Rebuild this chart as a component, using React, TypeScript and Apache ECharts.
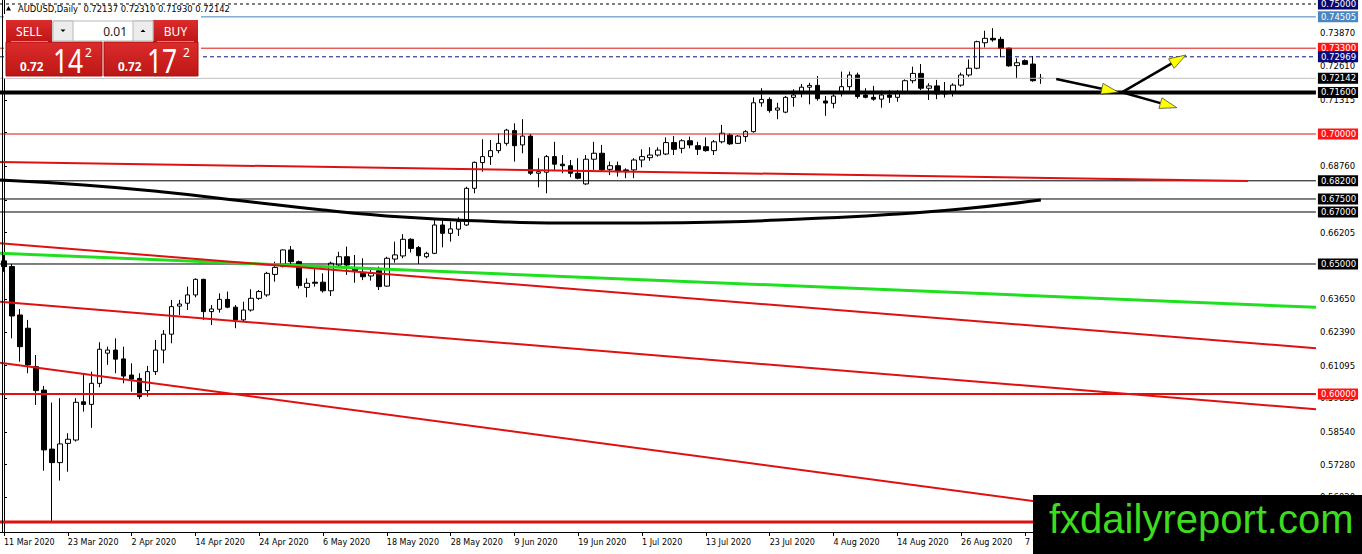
import React, { useEffect, useRef } from "react";
import * as echarts from "echarts";

const WIDTH = 1362;
const HEIGHT = 554;
const SLOT_COUNT = 165;
const BAR_COUNT = 131;
const Y_MIN = 0.546923;
const Y_MAX = 0.751538;

const MONTHS = ["Jan", "Feb", "Mar", "Apr", "May", "Jun", "Jul", "Aug", "Sep", "Oct", "Nov", "Dec"];

const opens = [
  0.6512, 0.649, 0.6304, 0.6253, 0.6105, 0.6015, 0.5788, 0.5736, 0.581, 0.5823,
  0.597, 0.596, 0.6041, 0.6157, 0.6169, 0.6135, 0.6073, 0.606, 0.6013, 0.6086,
  0.6169, 0.623, 0.6338, 0.6349, 0.6381, 0.6441, 0.6317, 0.6326, 0.6364, 0.6334,
  0.6285, 0.6323, 0.6368, 0.6381, 0.646, 0.649, 0.6554, 0.6509, 0.641, 0.643,
  0.643, 0.6397, 0.6496, 0.6528, 0.6484, 0.6464, 0.6454, 0.6474, 0.6415, 0.6519,
  0.6531, 0.6595, 0.6563, 0.6528, 0.6541, 0.665, 0.6618, 0.6634, 0.665, 0.6791,
  0.689, 0.6913, 0.6936, 0.6964, 0.7013, 0.6958, 0.6992, 0.6849, 0.6853, 0.6913,
  0.6884, 0.6878, 0.6849, 0.6808, 0.6903, 0.6926, 0.6864, 0.6878, 0.6862, 0.6862,
  0.69, 0.6909, 0.6919, 0.6923, 0.6967, 0.6945, 0.6974, 0.6955, 0.6951, 0.6936,
  0.697, 0.6996, 0.6964, 0.699, 0.7009, 0.712, 0.7133, 0.7092, 0.7084, 0.7141,
  0.7159, 0.718, 0.7187, 0.7127, 0.7118, 0.716, 0.7182, 0.7227, 0.715, 0.7141,
  0.7134, 0.715, 0.7141, 0.7163, 0.7205, 0.7233, 0.7176, 0.7185, 0.7154, 0.7163,
  0.7188, 0.7227, 0.7253, 0.7351, 0.7368, 0.7364, 0.733, 0.7263, 0.7282, 0.7269,
  0.72137,
];
const highs = [
  0.6535, 0.65, 0.6327, 0.6285, 0.615, 0.6031, 0.5967, 0.5984, 0.5849, 0.5984,
  0.608, 0.6086, 0.6199, 0.6182, 0.6214, 0.6182, 0.6118, 0.608, 0.6108, 0.6208,
  0.6246, 0.6362, 0.6362, 0.6413, 0.6445, 0.6443, 0.6342, 0.6387, 0.6394, 0.6342,
  0.6355, 0.6403, 0.64, 0.647, 0.6509, 0.6556, 0.6569, 0.6513, 0.6445, 0.648,
  0.6464, 0.6509, 0.6547, 0.6567, 0.6535, 0.6522, 0.6477, 0.649, 0.6528, 0.6586,
  0.6615, 0.6599, 0.6569, 0.6547, 0.6673, 0.6676, 0.6663, 0.668, 0.6797, 0.6894,
  0.698, 0.6977, 0.7003, 0.702, 0.7041, 0.7057, 0.7, 0.6907, 0.6919, 0.697,
  0.6919, 0.69, 0.6907, 0.6919, 0.697, 0.6958, 0.6894, 0.6894, 0.6868, 0.6907,
  0.6941, 0.6949, 0.6949, 0.6987, 0.6992, 0.698, 0.699, 0.697, 0.6987, 0.6977,
  0.7035, 0.7003, 0.6996, 0.7015, 0.7141, 0.7176, 0.7141, 0.712, 0.7146, 0.7172,
  0.7192, 0.7197, 0.7223, 0.7146, 0.7157, 0.724, 0.724, 0.7236, 0.7176, 0.7185,
  0.7167, 0.7169, 0.7169, 0.721, 0.7259, 0.7269, 0.7195, 0.7208, 0.72, 0.7195,
  0.7236, 0.7287, 0.7359, 0.7397, 0.7407, 0.7374, 0.7332, 0.7291, 0.7287, 0.73,
  0.7231,
];
const lows = [
  0.647, 0.6214, 0.6124, 0.608, 0.5958, 0.5705, 0.551, 0.5667, 0.5701, 0.5817,
  0.5932, 0.587, 0.6026, 0.6112, 0.608, 0.6041, 0.6009, 0.598, 0.599, 0.6073,
  0.6118, 0.6195, 0.6304, 0.6323, 0.6372, 0.6285, 0.6265, 0.6313, 0.633, 0.6253,
  0.6278, 0.6317, 0.6362, 0.6374, 0.6432, 0.6487, 0.65, 0.6406, 0.6372, 0.6413,
  0.639, 0.6377, 0.649, 0.6458, 0.6428, 0.6438, 0.6436, 0.64, 0.6413, 0.6505,
  0.6522, 0.6544, 0.65, 0.6522, 0.6538, 0.6564, 0.6586, 0.6608, 0.6646, 0.6772,
  0.6855, 0.6881, 0.6926, 0.6955, 0.6894, 0.6926, 0.6842, 0.6795, 0.6772, 0.6862,
  0.6849, 0.6834, 0.6826, 0.6804, 0.6862, 0.6855, 0.6842, 0.6836, 0.683, 0.683,
  0.6872, 0.6897, 0.6913, 0.6919, 0.6919, 0.6926, 0.6945, 0.6919, 0.6932, 0.6919,
  0.6964, 0.6958, 0.6962, 0.697, 0.7005, 0.7105, 0.7082, 0.7057, 0.708, 0.7105,
  0.7141, 0.7114, 0.7128, 0.707, 0.7099, 0.7144, 0.7167, 0.7136, 0.7137, 0.7128,
  0.7101, 0.712, 0.7124, 0.7159, 0.7195, 0.7169, 0.7131, 0.7134, 0.714, 0.7144,
  0.7182, 0.722, 0.7249, 0.7333, 0.7355, 0.7295, 0.7259, 0.7214, 0.7265, 0.7201,
  0.7193,
];
const closes = [
  0.649, 0.63, 0.6182, 0.6112, 0.6013, 0.5785, 0.5736, 0.5808, 0.5826, 0.5968,
  0.596, 0.6041, 0.6172, 0.6169, 0.6134, 0.6069, 0.6057, 0.599, 0.6086, 0.6169,
  0.623, 0.6336, 0.6346, 0.6381, 0.6441, 0.6317, 0.6327, 0.6364, 0.6334, 0.6285,
  0.6323, 0.6368, 0.6394, 0.6464, 0.6487, 0.6554, 0.6509, 0.6417, 0.6426, 0.6426,
  0.6397, 0.6503, 0.6528, 0.6496, 0.6474, 0.6451, 0.6464, 0.6413, 0.6522, 0.6535,
  0.6595, 0.656, 0.6532, 0.6541, 0.665, 0.6618, 0.6635, 0.6663, 0.6791, 0.6891,
  0.6913, 0.6936, 0.6964, 0.7015, 0.6955, 0.6992, 0.6849, 0.6855, 0.6913, 0.6884,
  0.6878, 0.6849, 0.683, 0.6903, 0.6926, 0.6862, 0.6878, 0.6855, 0.6855, 0.69,
  0.6913, 0.6919, 0.6938, 0.6967, 0.6941, 0.6974, 0.6958, 0.6941, 0.6936, 0.697,
  0.7003, 0.6962, 0.6992, 0.7009, 0.712, 0.7133, 0.709, 0.71, 0.7141, 0.715,
  0.718, 0.7187, 0.7136, 0.7119, 0.7146, 0.7182, 0.7227, 0.7144, 0.7141, 0.7134,
  0.715, 0.7141, 0.7163, 0.7205, 0.7233, 0.7176, 0.7185, 0.7154, 0.7156, 0.7188,
  0.7227, 0.7253, 0.7355, 0.7368, 0.7362, 0.733, 0.7262, 0.7274, 0.7268, 0.7205,
  0.72142,
];

// thick black moving average: anchor bar indices and prices
const maIndex = [-0.5, 10, 20, 30, 40, 50, 60, 70, 80, 90, 100, 110, 120, 130];
const maValue = [0.68231, 0.68038, 0.67769, 0.67423, 0.67077, 0.66808, 0.66654, 0.66577, 0.66577, 0.66615, 0.66731, 0.66885, 0.67115, 0.67462];

// trend lines: [barIndex, price] endpoints
const trendRedUpper = [[-0.5, 0.65796], [164.5, 0.61758]];
const trendRedMiddle = [[-0.5, 0.6355], [164.5, 0.59412]];
const trendRedLower = [[-0.5, 0.61204], [164.5, 0.54423]];
const trendGreen = [[-0.5, 0.65412], [164.5, 0.63335]];
const trendRedFlat = [[-0.5, 0.68923], [155.98, 0.68192]];

// horizontal levels
const levelPrices = [0.75, 0.74505, 0.733, 0.72969, 0.72142, 0.716, 0.7, 0.682, 0.675, 0.67, 0.65, 0.6, 0.55077];

// right axis tick labels
const yTickValues = [0.7387, 0.7261, 0.71315, 0.70055, 0.6876, 0.67465, 0.66205, 0.6491, 0.6365, 0.6239, 0.61095, 0.59835, 0.5854, 0.5728, 0.5602];

// arrows: start / end [barIndex, price]
const arrowFrom = [[131.93, 0.72115], [140.16, 0.71604], [140.16, 0.71604]];
const arrowTo = [[139.73, 0.71604], [148.21, 0.73038], [147.05, 0.71012]];

const titleText = "AUDUSD,Daily  0.72137 0.72310 0.71930 0.72142";

function buildCategories(): string[] {
  const out: string[] = [];
  const d = new Date(Date.UTC(2020, 2, 11));
  while (out.length < BAR_COUNT) {
    const wd = d.getUTCDay();
    if (wd !== 0 && wd !== 6) {
      out.push(`${d.getUTCDate()} ${MONTHS[d.getUTCMonth()]} ${d.getUTCFullYear()}`);
    }
    d.setUTCDate(d.getUTCDate() + 1);
  }
  let k = 0;
  while (out.length < SLOT_COUNT) out.push(`pad${k++}`);
  return out;
}

const RED = "#e01010";
const levelStyles: { c: string; w: number; t: any; box: string | null }[] = [
  { c: "#000000", w: 1, t: [3, 3], box: "#06066e" },
  { c: "#4682b4", w: 1, t: "solid", box: "#4a86c2" },
  { c: RED, w: 1, t: "solid", box: "#ff1414" },
  { c: "#10107a", w: 1, t: [4, 3], box: "#0a0a7a" },
  { c: "#c0c0c0", w: 1, t: "solid", box: "#000000" },
  { c: "#000000", w: 4, t: "solid", box: "#000000" },
  { c: RED, w: 1, t: "solid", box: "#ff1414" },
  { c: "#000000", w: 1, t: "solid", box: "#000000" },
  { c: "#000000", w: 1, t: "solid", box: "#000000" },
  { c: "#000000", w: 1, t: "solid", box: "#000000" },
  { c: "#000000", w: 1, t: "solid", box: "#000000" },
  { c: RED, w: 2, t: "solid", box: "#ff1414" },
  { c: RED, w: 3, t: "solid", box: null },
];

const AXIS_FONT = "DejaVu Sans";

function buildOption() {
  const categories = buildCategories();
  const candleData = opens.map((o, i) => [o, closes[i], lows[i], highs[i]]);
  const lineSeries = (data: number[][], color: string, width: number, smooth = false, type: any = "solid", z = 4) => ({
    type: "line",
    xAxisIndex: 1,
    yAxisIndex: 0,
    data,
    smooth,
    symbol: "none",
    silent: true,
    z,
    lineStyle: { color, width, type },
  });
  const levelSeries = levelPrices.map((p, i) => {
    const s = levelStyles[i];
    const base: any = lineSeries([[-0.5, p], [164.49, p]], s.c, s.w, false, s.t, 3);
    base.endLabel = s.box
      ? {
          show: true,
          formatter: () => p.toFixed(5),
          color: "#ffffff",
          backgroundColor: s.box,
          padding: [1, 2, 1, 3],
          fontSize: 8.5,
          fontFamily: AXIS_FONT,
          distance: 2,
          align: "left",
          verticalAlign: "middle",
        }
      : { show: false };
    return base;
  });
  return {
    animation: false,
    backgroundColor: "#ffffff",
    grid: { left: -1, right: 46, top: 0, bottom: 22, containLabel: false },
    xAxis: [
      {
        type: "category",
        data: categories,
        boundaryGap: true,
        axisLine: { show: true, lineStyle: { color: "#000", width: 1 } },
        axisTick: { show: true, alignWithLabel: true, interval: 7, length: 4, lineStyle: { color: "#000" } },
        axisLabel: {
          interval: 7,
          align: "left",
          margin: 6,
          color: "#000",
          fontSize: 8,
          fontFamily: AXIS_FONT,
          formatter: (v: string) => (v.startsWith("pad") ? "" : v),
        },
        splitLine: { show: false },
      },
      { type: "value", min: -0.5, max: 164.5, show: false },
    ],
    yAxis: {
      type: "value",
      position: "right",
      min: Y_MIN,
      max: Y_MAX,
      scale: true,
      axisLine: { show: true, lineStyle: { color: "#000", width: 1 } },
      axisTick: { show: true, length: 3, customValues: yTickValues, lineStyle: { color: "#000" } },
      axisLabel: {
        show: true,
        customValues: yTickValues,
        formatter: (v: number) => v.toFixed(5),
        margin: 4,
        color: "#000",
        fontSize: 8.5,
        fontFamily: AXIS_FONT,
      },
      splitLine: { show: false },
    },
    series: [
      {
        type: "candlestick",
        xAxisIndex: 0,
        yAxisIndex: 0,
        data: candleData,
        barWidth: 5,
        silent: true,
        z: 2,
        itemStyle: {
          color: "#ffffff",
          color0: "#000000",
          borderColor: "#000000",
          borderColor0: "#000000",
          borderColorDoji: "#000000",
          borderWidth: 1,
        },
      },
      lineSeries(maIndex.map((x, i) => [x, maValue[i]]), "#000000", 3, true),
      lineSeries(trendRedFlat, RED, 2),
      lineSeries(trendGreen, "#1fe01f", 3),
      lineSeries(trendRedUpper, RED, 2),
      lineSeries(trendRedMiddle, RED, 2),
      lineSeries(trendRedLower, RED, 2),
      ...levelSeries,
    ],
  };
}

function redFill() {
  return new echarts.graphic.LinearGradient(0, 0, 0, 1, [
    { offset: 0, color: "#dc2c2c" },
    { offset: 1, color: "#bd1616" },
  ]);
}

function buildGraphics(toPx: (pt: number[]) => number[]) {
  const els: any[] = [];
  els.push({ type: "line", shape: { x1: 2.5, y1: 0, x2: 2.5, y2: 532 }, style: { stroke: "#000", lineWidth: 1 } });
  els.push({ type: "polygon", shape: { points: [[6, 10.5], [11, 10.5], [8.5, 6]] }, style: { fill: "#000" } });
  els.push({
    type: "text",
    x: 18,
    y: 8.5,
    style: { text: titleText, fill: "#000", fontSize: 8.4, fontFamily: AXIS_FONT, align: "left", verticalAlign: "middle" },
  });
  els.push({ type: "rect", shape: { x: 4, y: 14, width: 197, height: 64 }, style: { fill: "#ffffff" } });
  els.push({ type: "rect", shape: { x: 6, y: 20, width: 46, height: 22 }, style: { fill: redFill() } });
  els.push({ type: "rect", shape: { x: 153, y: 20, width: 45, height: 22 }, style: { fill: redFill() } });
  els.push({ type: "rect", shape: { x: 6, y: 42, width: 96, height: 34 }, style: { fill: redFill(), stroke: "#a81010", lineWidth: 1 } });
  els.push({ type: "rect", shape: { x: 104, y: 42, width: 94, height: 34 }, style: { fill: redFill(), stroke: "#a81010", lineWidth: 1 } });
  els.push({ type: "line", shape: { x1: 11, y1: 41.5, x2: 48, y2: 41.5 }, style: { stroke: "#ee7a7a", lineWidth: 1 } });
  els.push({ type: "line", shape: { x1: 157, y1: 41.5, x2: 194, y2: 41.5 }, style: { stroke: "#ee7a7a", lineWidth: 1 } });
  els.push({ type: "rect", shape: { x: 53, y: 21, width: 100, height: 20 }, style: { fill: "#ffffff", stroke: "#b8b8b8", lineWidth: 1 } });
  els.push({ type: "rect", shape: { x: 53, y: 21, width: 20, height: 20 }, style: { fill: "#ececec", stroke: "#b8b8b8", lineWidth: 1 } });
  els.push({ type: "rect", shape: { x: 133, y: 21, width: 20, height: 20 }, style: { fill: "#ececec", stroke: "#b8b8b8", lineWidth: 1 } });
  els.push({ type: "polygon", shape: { points: [[60.5, 29.5], [65.5, 29.5], [63, 32]] }, style: { fill: "#000" } });
  els.push({ type: "polygon", shape: { points: [[140.5, 32], [145.5, 32], [143, 29.5]] }, style: { fill: "#000" } });
  els.push({
    type: "text", x: 127, y: 31,
    style: { text: "0.01", fill: "#222", fontSize: 12, fontFamily: "Noto Sans", align: "right", verticalAlign: "middle" },
  });
  els.push({
    type: "text", x: 29, y: 31,
    style: { text: "SELL", fill: "#fff", fontSize: 12, fontFamily: "Noto Sans", align: "center", verticalAlign: "middle" },
  });
  els.push({
    type: "text", x: 175.5, y: 31,
    style: { text: "BUY", fill: "#fff", fontSize: 12, fontFamily: "Noto Sans", align: "center", verticalAlign: "middle" },
  });
  const priceTexts = [
    { x0: 20, x1: 53, x2: 85, big: "14" },
    { x0: 118, x1: 147, x2: 183, big: "17" },
  ];
  priceTexts.forEach((p) => {
    els.push({
      type: "text", x: p.x0, y: 66, scaleX: 0.9,
      style: { text: "0.72", fill: "#fff", fontSize: 13, fontWeight: "bold", fontFamily: "Noto Sans", align: "left", verticalAlign: "middle" },
    });
    els.push({
      type: "text", x: p.x1, y: 60, scaleX: 0.8,
      style: { text: p.big, fill: "#fff", fontSize: 33, fontFamily: "Noto Sans", align: "left", verticalAlign: "middle" },
    });
    els.push({
      type: "text", x: p.x2, y: 52.5,
      style: { text: "2", fill: "#fff", fontSize: 12, fontFamily: "Noto Sans", align: "left", verticalAlign: "middle" },
    });
  });
  arrowFrom.forEach((from, i) => {
    const s = toPx(from);
    const t = toPx(arrowTo[i]);
    const dx = t[0] - s[0];
    const dy = t[1] - s[1];
    const len = Math.sqrt(dx * dx + dy * dy) || 1;
    const ux = dx / len;
    const uy = dy / len;
    const bx = t[0] - 17 * ux;
    const by = t[1] - 17 * uy;
    const nx = -uy;
    const ny = ux;
    els.push({ type: "line", shape: { x1: s[0], y1: s[1], x2: bx, y2: by }, style: { stroke: "#000", lineWidth: 2.5 } });
    els.push({
      type: "polygon",
      shape: { points: [[t[0], t[1]], [bx + 5.5 * nx, by + 5.5 * ny], [bx - 5.5 * nx, by - 5.5 * ny]] },
      style: { fill: "#ffff00", stroke: "#333", lineWidth: 0.7 },
    });
  });
  els.push({ type: "rect", shape: { x: 1033, y: 495, width: 329, height: 59 }, style: { fill: "#000" } });
  els.push({
    type: "text", x: 1049, y: 519,
    style: { text: "fxdailyreport.com", fill: "#3ddc1f", fontSize: 40, fontFamily: "Liberation Sans", align: "left", verticalAlign: "middle" },
  });
  return els.map((e) => ({ ...e, z: 100, silent: true }));
}

export default function App() {
  const ref = useRef<HTMLDivElement>(null);
  useEffect(() => {
    const el = ref.current;
    if (!el) return;
    const chart = echarts.init(el, null, { renderer: "svg", width: WIDTH, height: HEIGHT });
    chart.setOption(buildOption() as any);
    const toPx = (pt: number[]) => chart.convertToPixel({ seriesIndex: 1 }, pt) as unknown as number[];
    chart.setOption({ graphic: { elements: buildGraphics(toPx) } } as any);
    return () => chart.dispose();
  }, []);
  return (
    <div
      ref={ref}
      style={{ position: "absolute", left: 0, top: 0, width: WIDTH, height: HEIGHT, background: "#fff" }}
    />
  );
}
